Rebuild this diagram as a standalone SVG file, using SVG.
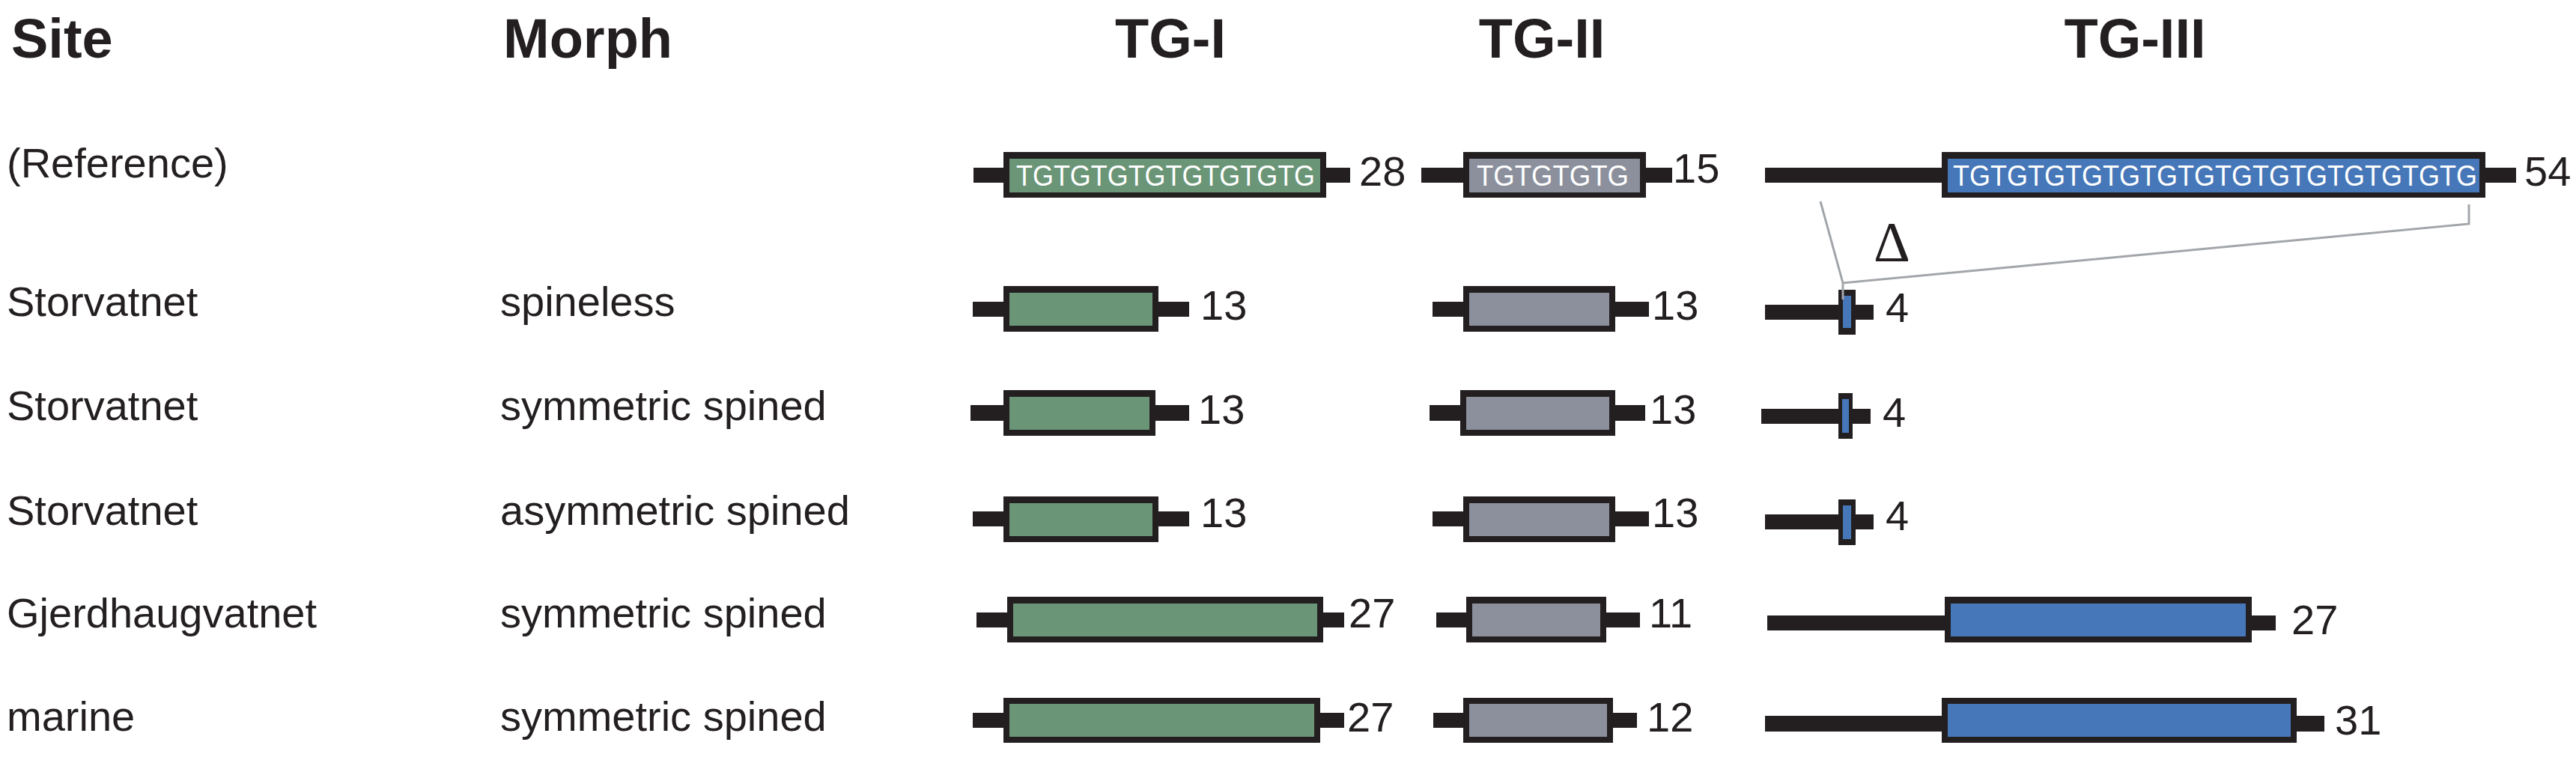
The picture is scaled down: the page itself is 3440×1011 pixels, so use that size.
<svg xmlns="http://www.w3.org/2000/svg" width="3440" height="1011" viewBox="0 0 3440 1011">
<style>
  .hdr{font-family:"Liberation Sans",Arial,sans-serif;font-weight:bold;font-size:74px;fill:#231f20}
  .lbl{font-family:"Liberation Sans",Arial,sans-serif;font-size:56px;fill:#231f20}
  .num{font-family:"Liberation Sans",Arial,sans-serif;font-size:56px;fill:#231f20}
  .seq{font-family:"Liberation Sans",Arial,sans-serif;font-size:39px;fill:#ffffff}
  .blk{fill:#231f20}
  .g1{fill:#6a9677}
  .g2{fill:#8b909c}
  .g3{fill:#4677b8}
  .delta{fill:none;stroke:#a2a5aa;stroke-width:3}
  .dsym{font-family:"Liberation Serif","Times New Roman",serif;font-size:76px;fill:#231f20}
</style>
<rect x="0" y="0" width="3440" height="1011" fill="#ffffff"/>

<g id="headers">
  <text class="hdr" x="15" y="77">Site</text>
  <text class="hdr" x="672" y="77">Morph</text>
  <text class="hdr" x="1563" y="77" text-anchor="middle">TG-I</text>
  <text class="hdr" x="2059" y="77" text-anchor="middle">TG-II</text>
  <text class="hdr" x="2851" y="77" text-anchor="middle">TG-III</text>
</g>

<g id="labels">
  <text class="lbl" x="9" y="237">(Reference)</text>
  <text class="lbl" x="9" y="422">Storvatnet</text>
  <text class="lbl" x="668" y="422">spineless</text>
  <text class="lbl" x="9" y="561">Storvatnet</text>
  <text class="lbl" x="668" y="561">symmetric spined</text>
  <text class="lbl" x="9" y="701">Storvatnet</text>
  <text class="lbl" x="668" y="701">asymmetric spined</text>
  <text class="lbl" x="9" y="838">Gjerdhaugvatnet</text>
  <text class="lbl" x="668" y="838">symmetric spined</text>
  <text class="lbl" x="9" y="976">marine</text>
  <text class="lbl" x="668" y="976">symmetric spined</text>
</g>

<!-- Reference row -->
<g id="ref-tg1">
  <rect class="blk" x="1300" y="224" width="503" height="20"/>
  <rect class="blk" x="1340" y="203" width="431" height="61"/>
  <rect class="g1" x="1348" y="212" width="415" height="45"/>
  <text class="seq" x="1357" y="248" textLength="399" lengthAdjust="spacingAndGlyphs">TGTGTGTGTGTGTGTG</text>
  <text class="num" x="1815" y="248">28</text>
</g>
<g id="ref-tg2">
  <rect class="blk" x="1898" y="224" width="335" height="20"/>
  <rect class="blk" x="1954" y="203" width="244" height="61"/>
  <rect class="g2" x="1962" y="212" width="228" height="45"/>
  <text class="seq" x="1972" y="248" textLength="203" lengthAdjust="spacingAndGlyphs">TGTGTGTG</text>
  <text class="num" x="2234" y="244">15</text>
</g>
<g id="ref-tg3">
  <rect class="blk" x="2357" y="224" width="1003" height="20"/>
  <rect class="blk" x="2593" y="203" width="726" height="61"/>
  <rect class="g3" x="2601" y="212" width="710" height="45"/>
  <text class="seq" x="2608" y="248" textLength="700" lengthAdjust="spacingAndGlyphs">TGTGTGTGTGTGTGTGTGTGTGTGTGTG</text>
  <text class="num" x="3371" y="248">54</text>
</g>

<!-- Row 1 -->
<g id="r1-tg1">
  <rect class="blk" x="1299" y="403" width="289" height="20"/>
  <rect class="blk" x="1340" y="382" width="207" height="61"/>
  <rect class="g1" x="1348" y="391" width="191" height="44"/>
  <text class="num" x="1603" y="427">13</text>
</g>
<g id="r1-tg2">
  <rect class="blk" x="1913" y="403" width="289" height="20"/>
  <rect class="blk" x="1954" y="382" width="203" height="61"/>
  <rect class="g2" x="1962" y="391" width="187" height="44"/>
  <text class="num" x="2206" y="427">13</text>
</g>
<g id="r1-tg3">
  <rect class="blk" x="2357" y="407" width="145" height="20"/>
  <rect class="blk" x="2455" y="387" width="23" height="60"/>
  <rect class="g3" x="2461" y="395" width="11" height="43"/>
  <text class="num" x="2518" y="430">4</text>
</g>

<!-- Row 2 -->
<g id="r2-tg1">
  <rect class="blk" x="1296" y="541" width="292" height="21"/>
  <rect class="blk" x="1340" y="521" width="203" height="61"/>
  <rect class="g1" x="1348" y="530" width="187" height="44"/>
  <text class="num" x="1600" y="566">13</text>
</g>
<g id="r2-tg2">
  <rect class="blk" x="1909" y="541" width="288" height="21"/>
  <rect class="blk" x="1950" y="521" width="207" height="61"/>
  <rect class="g2" x="1958" y="530" width="191" height="44"/>
  <text class="num" x="2203" y="566">13</text>
</g>
<g id="r2-tg3">
  <rect class="blk" x="2352" y="546" width="146" height="20"/>
  <rect class="blk" x="2455" y="525" width="19" height="61"/>
  <rect class="g3" x="2460" y="533" width="9" height="45"/>
  <text class="num" x="2514" y="570">4</text>
</g>

<!-- Row 3 -->
<g id="r3-tg1">
  <rect class="blk" x="1299" y="683" width="289" height="20"/>
  <rect class="blk" x="1340" y="663" width="207" height="61"/>
  <rect class="g1" x="1348" y="672" width="191" height="44"/>
  <text class="num" x="1603" y="704">13</text>
</g>
<g id="r3-tg2">
  <rect class="blk" x="1913" y="683" width="289" height="20"/>
  <rect class="blk" x="1954" y="663" width="203" height="61"/>
  <rect class="g2" x="1962" y="672" width="187" height="44"/>
  <text class="num" x="2206" y="704">13</text>
</g>
<g id="r3-tg3">
  <rect class="blk" x="2357" y="687" width="145" height="20"/>
  <rect class="blk" x="2455" y="667" width="23" height="61"/>
  <rect class="g3" x="2461" y="675" width="11" height="45"/>
  <text class="num" x="2518" y="708">4</text>
</g>

<!-- Row 4 -->
<g id="r4-tg1">
  <rect class="blk" x="1304" y="818" width="491" height="20"/>
  <rect class="blk" x="1345" y="797" width="422" height="61"/>
  <rect class="g1" x="1353" y="806" width="406" height="44"/>
  <text class="num" x="1801" y="838">27</text>
</g>
<g id="r4-tg2">
  <rect class="blk" x="1918" y="818" width="272" height="20"/>
  <rect class="blk" x="1958" y="797" width="187" height="61"/>
  <rect class="g2" x="1966" y="806" width="171" height="44"/>
  <text class="num" x="2202" y="838">11</text>
</g>
<g id="r4-tg3">
  <rect class="blk" x="2360" y="822" width="679" height="20"/>
  <rect class="blk" x="2597" y="797" width="410" height="61"/>
  <rect class="g3" x="2605" y="806" width="394" height="44"/>
  <text class="num" x="3060" y="847">27</text>
</g>

<!-- Row 5 -->
<g id="r5-tg1">
  <rect class="blk" x="1299" y="952" width="496" height="20"/>
  <rect class="blk" x="1340" y="932" width="423" height="60"/>
  <rect class="g1" x="1348" y="940" width="407" height="44"/>
  <text class="num" x="1799" y="977">27</text>
</g>
<g id="r5-tg2">
  <rect class="blk" x="1914" y="952" width="272" height="20"/>
  <rect class="blk" x="1954" y="932" width="200" height="60"/>
  <rect class="g2" x="1962" y="940" width="184" height="44"/>
  <text class="num" x="2199" y="977">12</text>
</g>
<g id="r5-tg3">
  <rect class="blk" x="2357" y="956" width="747" height="21"/>
  <rect class="blk" x="2593" y="932" width="474" height="60"/>
  <rect class="g3" x="2601" y="940" width="458" height="44"/>
  <text class="num" x="3118" y="981">31</text>
</g>

<g id="connectors">
  <path class="delta" d="M2431,269 L2461,378 L3297,299 L3297,273 M2461,378 L2461,400"/>
</g>
<g id="delta-label">
  <text class="dsym" x="2502" y="349">Δ</text>
</g>
</svg>
